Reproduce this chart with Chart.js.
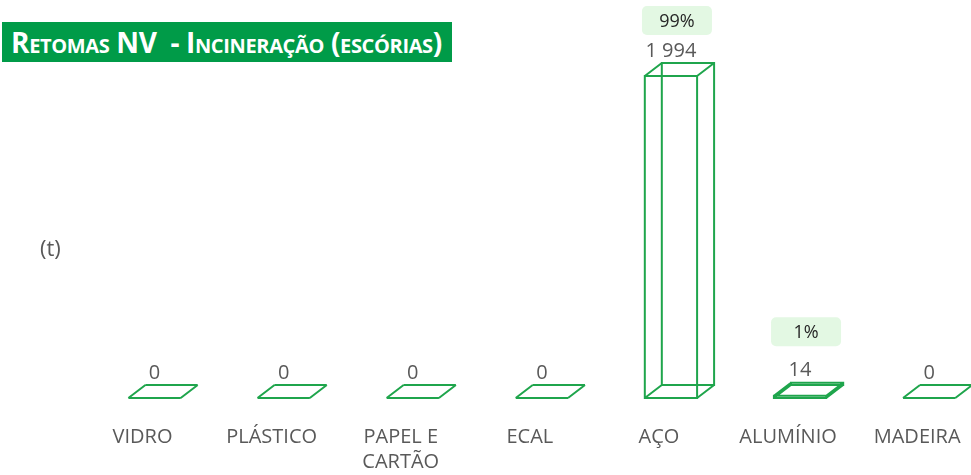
<!DOCTYPE html>
<html>
<head>
<meta charset="utf-8">
<script src="https://cdn.jsdelivr.net/npm/chart.js@4"></script>
<style>
  html, body { margin: 0; padding: 0; background: #fff; overflow: hidden; width: 971px; height: 475px; }
  #wrap { position: absolute; left: 0; top: 0; width: 1000px; height: 475px; }
  #title {
    position: absolute; left: 2px; top: 22px; width: 450px; height: 40px;
    background: #009B48; color: #fff;
    font: bold 28px "Open Sans", sans-serif; font-variant: small-caps;
    line-height: 40px; padding-left: 9px; box-sizing: border-box; white-space: pre;
    letter-spacing: -0.35px; overflow: hidden;
  }
  #unit { position: absolute; left: 40px; top: 232px; font: 22px "Open Sans", sans-serif; color: #595959; }
</style>
</head>
<body>
<div id="wrap"><canvas id="chart" width="1000" height="475"></canvas></div>
<div id="title">Retomas NV  - Incineração (escórias)</div>
<div id="unit">(t)</div>
<script>
// data
const categories = ['VIDRO', 'PLÁSTICO', ['PAPEL E', 'CARTÃO'], 'ECAL', 'AÇO', 'ALUMÍNIO', 'MADEIRA'];
const tonnes = [0, 0, 0, 0, 1994, 14, 0];
const shareLabels = ['', '', '', '', '99%', '1%', ''];

const green = '#1FA54C';
const depthX = 17, depthY = -13;

function fmt(v) {
  return String(v).replace(/\B(?=(\d{3})+(?!\d))/g, ' ');
}

const boxes3d = {
  id: 'boxes3d',
  afterDatasetsDraw(chart) {
    const ctx = chart.ctx;
    const meta = chart.getDatasetMeta(0);
    ctx.save();
    ctx.strokeStyle = green;
    ctx.lineWidth = 2;
    ctx.lineJoin = 'miter';
    meta.data.forEach((bar, i) => {
      const { x, y, base, width } = bar.getProps(['x', 'y', 'base', 'width'], true);
      const l = x - width / 2, r = x + width / 2;
      ctx.beginPath();
      // front face
      ctx.rect(l, y, width, base - y);
      // back face
      ctx.rect(l + depthX, y + depthY, width, base - y);
      // connecting edges
      [[l, y], [r, y], [l, base], [r, base]].forEach(([px, py]) => {
        ctx.moveTo(px, py);
        ctx.lineTo(px + depthX, py + depthY);
      });
      ctx.stroke();

      // value label
      const ly = y - 25;
      ctx.fillStyle = '#595959';
      ctx.font = '20px "Open Sans", sans-serif';
      ctx.textAlign = 'center';
      ctx.textBaseline = 'middle';
      ctx.fillText(fmt(tonnes[i]), x, ly);

      // share label
      if (shareLabels[i]) {
        const bw = 70, bh = 29;
        let by = ly - 39 - bh / 2;
        if (by < 6) by = 6;
        const bx = x + 6 - bw / 2;
        ctx.fillStyle = '#E3F8E3';
        ctx.beginPath();
        ctx.roundRect(bx, by, bw, bh, 5);
        ctx.fill();
        ctx.fillStyle = '#262626';
        ctx.font = '18px "Open Sans", sans-serif';
        ctx.fillText(shareLabels[i], bx + bw / 2, by + bh / 2 + 1);
      }
    });
    ctx.restore();
  }
};

new Chart(document.getElementById('chart'), {
  type: 'bar',
  data: {
    labels: categories,
    datasets: [{
      data: tonnes,
      backgroundColor: 'rgba(0,0,0,0)',
      borderWidth: 0,
      categoryPercentage: 1,
      barPercentage: 0.405,
      minBarLength: 0
    }]
  },
  options: {
    responsive: false,
    animation: false,
    layout: { padding: { left: 90, right: 6, top: 0, bottom: 0 } },
    plugins: { legend: { display: false }, tooltip: { enabled: false } },
    scales: {
      x: {
        grid: { display: false, drawTicks: false },
        border: { display: false },
        ticks: {
          color: '#595959',
          font: { family: 'Open Sans', size: 20, lineHeight: 1.25 },
          padding: 27,
          labelOffset: -12,
          maxRotation: 0,
          autoSkip: false
        },
        afterFit(scale) { scale.height = 77; }
      },
      y: { display: false, min: 0, max: 2465 }
    }
  },
  plugins: [boxes3d]
});
</script>
</body>
</html>
